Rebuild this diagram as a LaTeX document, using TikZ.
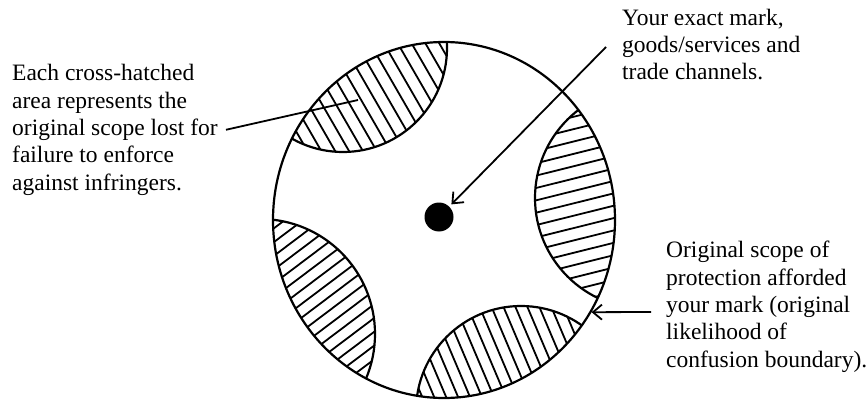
\documentclass[tikz,border=0pt]{standalone}
\usepackage{fontspec}
\setmainfont{Liberation Serif}
\usetikzlibrary{arrows.meta,shapes.geometric}
\newcommand\hatchlines[4]{%
  \foreach \k in {-16,...,16}{%
    \draw[hatchline] ({#1-\k*#4*sin(#3)-220*cos(#3)},{#2+\k*#4*cos(#3)-220*sin(#3)}) --
                     ({#1-\k*#4*sin(#3)+220*cos(#3)},{#2+\k*#4*cos(#3)+220*sin(#3)});}}
\begin{document}
\begin{tikzpicture}[x=1pt,y=-1pt,
  outline/.style={line width=2.2pt},
  hatchline/.style={line width=1.8pt},
  txt/.style={font=\fontsize{23.5}{27.3}\selectfont, align=left, inner sep=0pt, anchor=base west},
  arr/.style={line width=1.8pt, -{Straight Barb[length=9pt,width=15pt,line width=1.8pt]}},
  plain/.style={line width=1.8pt}
]
\useasboundingbox (0,0) rectangle (868,404);
\fill[white] (0,0) rectangle (868,404);

% hatched lenses
\begin{scope}
  \clip (444,220) ellipse [x radius=171, y radius=178];
  % top-left
  \begin{scope}
    \clip (343,48) circle [radius=104];
    \hatchlines{375}{100}{60}{12}
  \end{scope}
  \draw[outline] (343,48) circle [radius=104];
  % right
  \begin{scope}
    \clip (646,198) circle [radius=111];
    \hatchlines{567}{205}{-14}{12}
  \end{scope}
  \draw[outline] (646,198) circle [radius=111];
  % bottom-left
  \begin{scope}
    \clip (260,334) circle [radius=115];
    \hatchlines{325}{300}{-37}{11}
  \end{scope}
  \draw[outline] (260,334) circle [radius=115];
  % bottom
  \begin{scope}
    \clip (521,411) circle [radius=105];
    \hatchlines{500}{355}{67}{11}
  \end{scope}
  \draw[outline] (521,411) circle [radius=105];
\end{scope}

\node[ellipse, draw, outline, minimum width=342pt, minimum height=356pt, inner sep=0pt] (scope) at (444,220) {};
\node[circle, fill=black, minimum size=29pt, inner sep=0pt] (dot) at (439,217) {};

\node[txt] (lefttext) at (12,190) {Each cross-hatched\\area represents the\\original scope lost for\\failure to enforce\\against infringers.};
\node[txt] (trtext) at (622,80) {Your exact mark,\\goods/services and\\trade channels.};
\node[txt] (brtext) at (666,367) {Original scope of\\protection afforded\\your mark (original\\likelihood of\\confusion boundary).};

\coordinate (lensin) at (358,100);
\coordinate (a1) at (606,47);
\coordinate (a2) at (651,312);

\draw[plain] ([xshift=8pt]lefttext.east) -- (lensin);
\draw[arr, shorten >=3pt] (a1) -- (dot);
\draw[arr] (a2) -- (scope.-32);
\end{tikzpicture}
\end{document}
